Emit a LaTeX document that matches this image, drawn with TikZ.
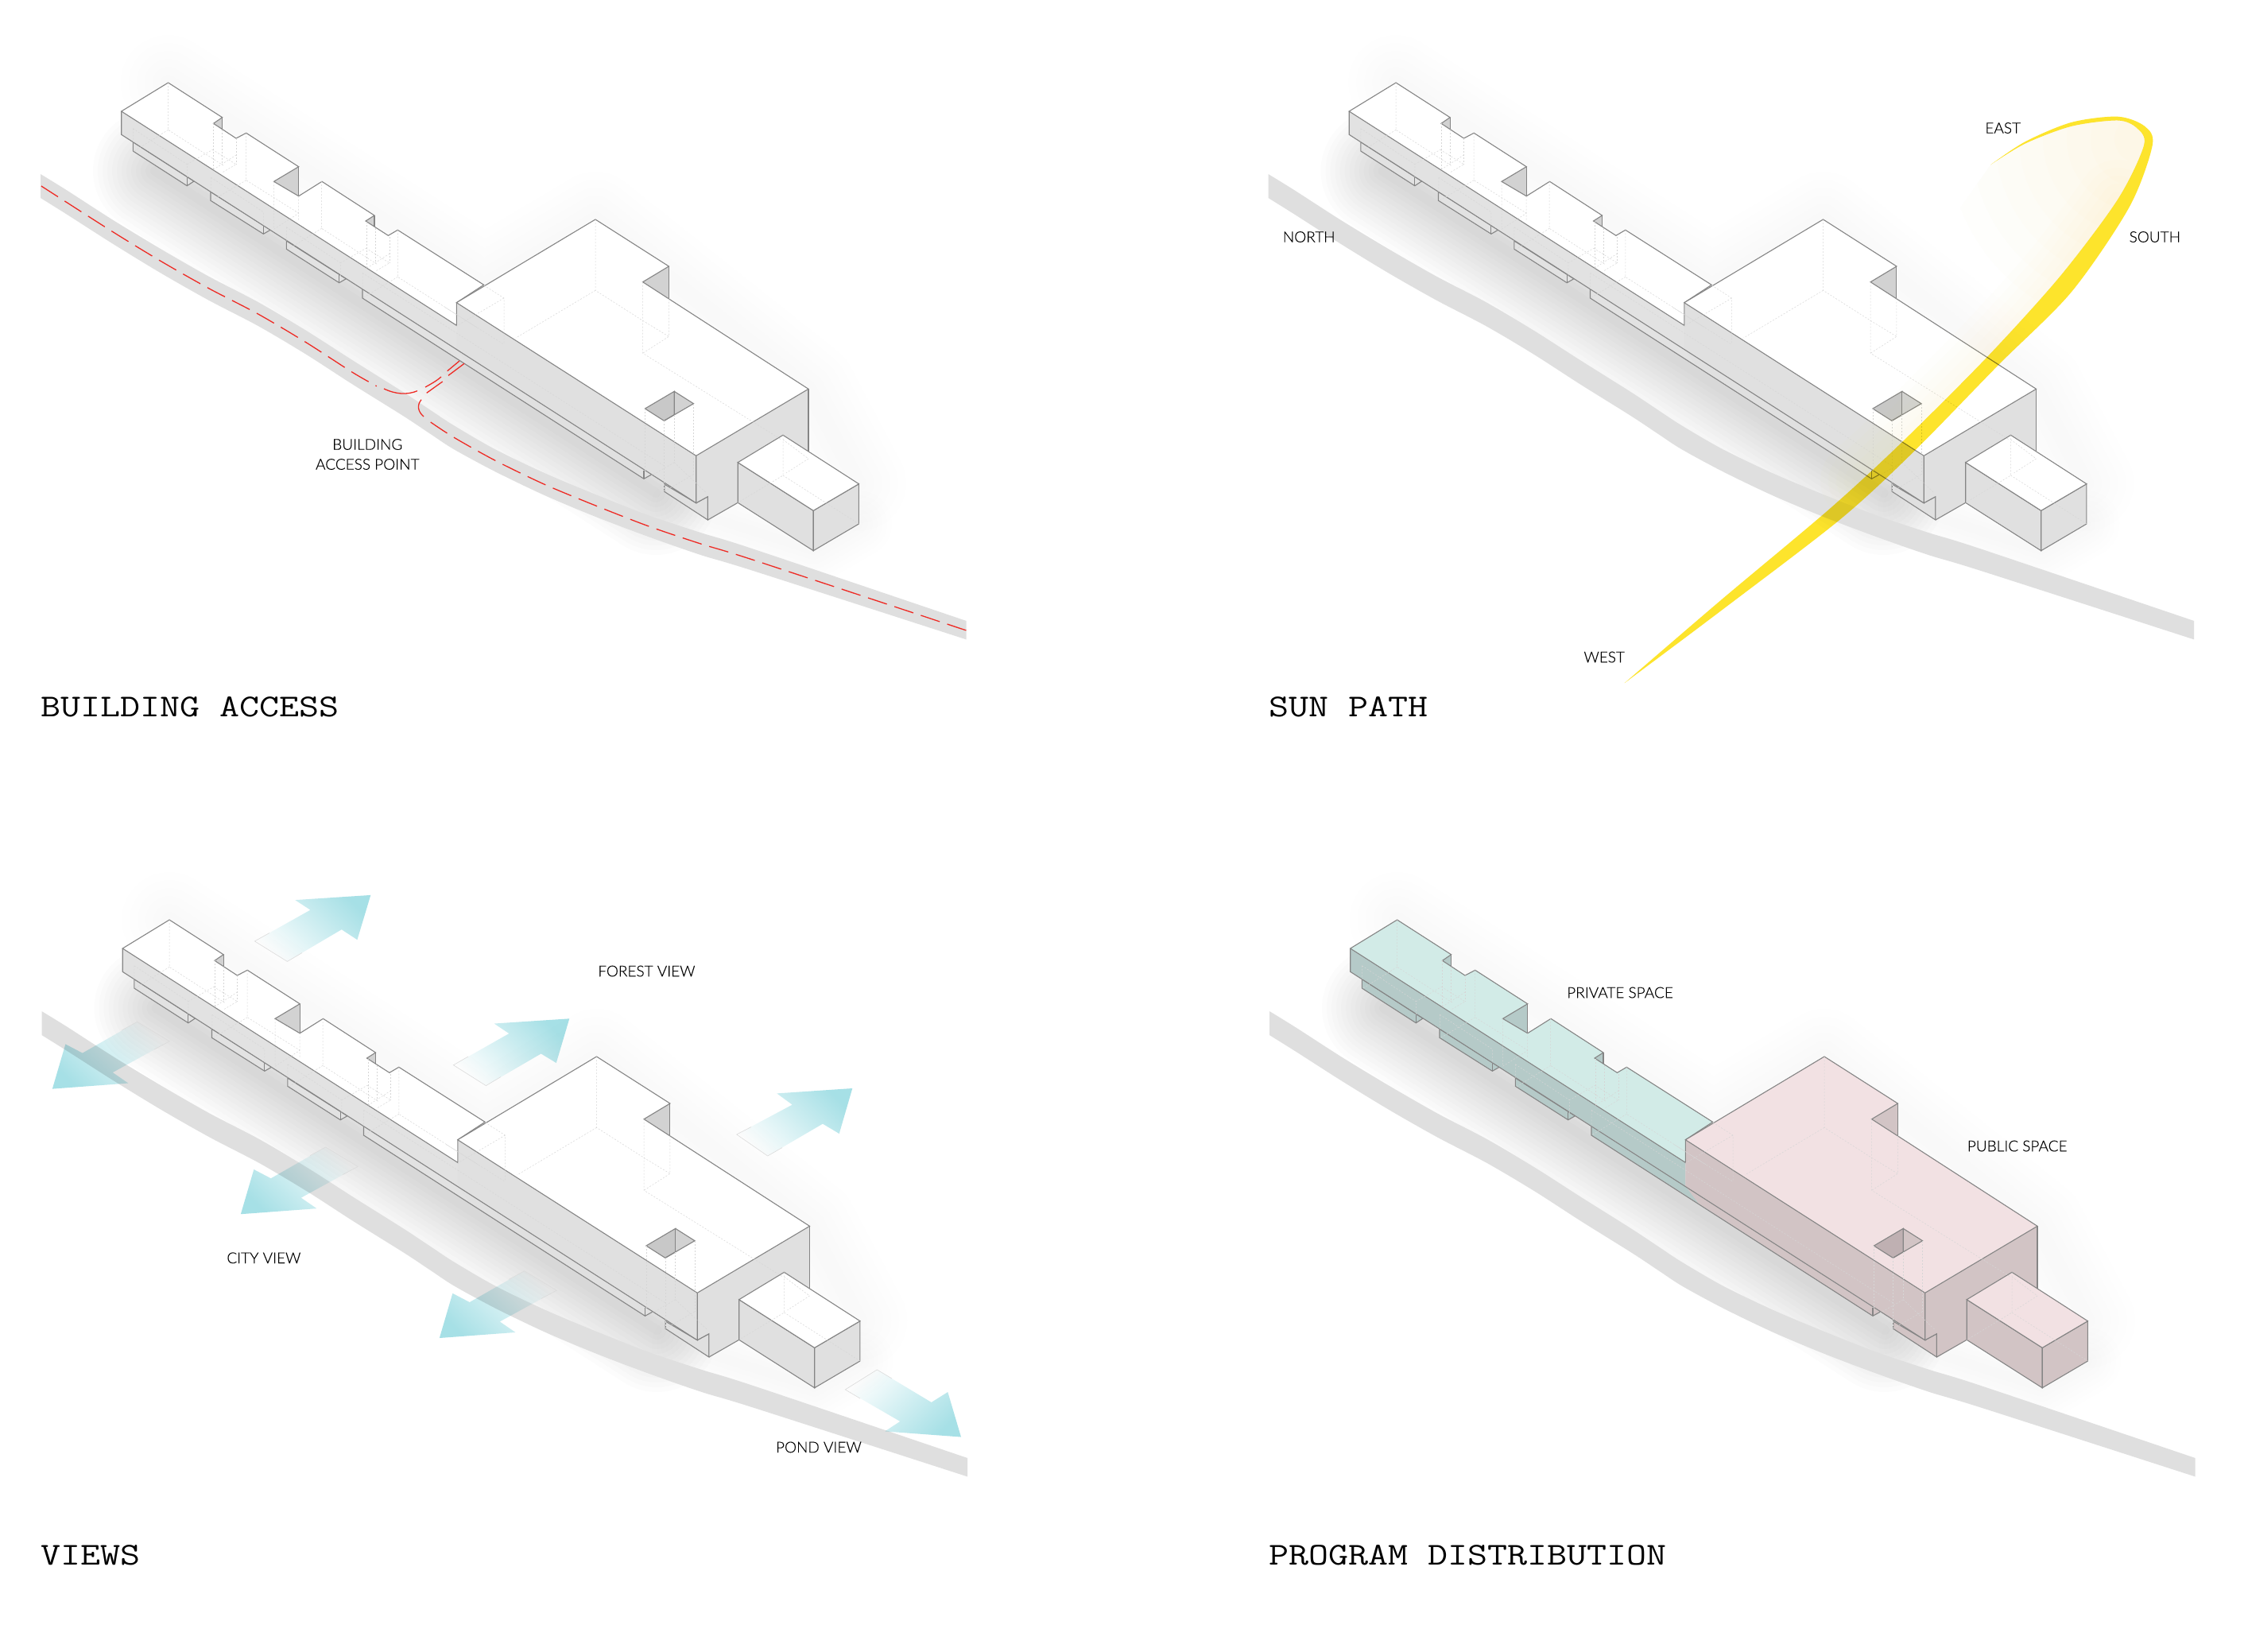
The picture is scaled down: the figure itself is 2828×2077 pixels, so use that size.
\documentclass[tikz,border=0pt]{standalone}
\usepackage{fontspec}
\usetikzlibrary{fadings}
\newfontfamily\lab[FakeBold=0.2]{Lato Light}
\newfontfamily\ttl[FakeStretch=1.215]{Latin Modern Mono}
\definecolor{roadc}{HTML}{DFDFDF}
\definecolor{edgec}{HTML}{858585}
\definecolor{sidec}{HTML}{E2E2E2}
\definecolor{sided}{HTML}{E0E0E0}
\definecolor{holed}{HTML}{C8C8C8}
\definecolor{notchd}{HTML}{D2D2D2}
\definecolor{tealt}{HTML}{D2EBE7}
\definecolor{teals}{HTML}{B5CAC8}
\definecolor{pinkt}{HTML}{F2E1E3}
\definecolor{pinks}{HTML}{D2C4C5}
\definecolor{pinkh}{HTML}{BFB0B2}
\definecolor{sunc}{HTML}{FDE42C}
\definecolor{arrowc}{HTML}{A6E0E6}
\definecolor{redc}{HTML}{EE2A24}
\tikzfading[name=arrowfade,left color=transparent!100,right color=transparent!0]
\tikzset{
  x=1pt,y=-1pt,
  edge/.style={draw=edgec,line width=1.1pt,line join=miter},
  hid/.style={draw=black!16,line width=.5pt,dash pattern=on 2pt off 2pt},
  roadf/.style={fill=roadc},
  redd/.style={draw=redc,line width=1.3pt,dash pattern=on 25pt off 10pt},
  reds/.style={draw=redc,line width=1.3pt},
  lbl/.style={font=\lab\fontsize{19}{23}\selectfont,text=black,inner sep=0pt,align=center},
  ttlb/.style={font=\ttl\fontsize{40}{40}\selectfont,text=black,inner sep=0pt,anchor=base west},
  arr/.style={fill=arrowc,blend mode=multiply,path fading=arrowfade,fading angle=#1},
  tail/.style={draw=black!14,line width=.6pt},
}
\newcommand{\roadpath}{%
  \foreach \w in {20,40,...,120}{\draw[black,opacity=.004,line width=\w,line cap=round,line join=round] (211.6,104)--(609,359)--(749,276)--(1017,489)--(1080,608);}
  \foreach \w in {12,24,...,156}{\draw[black,opacity=.0115,line width=\w,line cap=round,line join=round] (195,215)--(825,620);}
  \foreach \w in {12,24,...,84}{\draw[black,opacity=.0045,line width=\w,line cap=round,line join=round] (860,640)--(1023,692)--(1080,659);}
  \fill[roadf] plot[smooth,tension=.5] coordinates {(51,219)(83.5,239)(142,276.7)(202,313)(262.6,347.7)(324.7,380)(385,415.7)(443.3,453)(507,493)(541.7,516)(570.7,535)(622.5,565)(685,595)(749.3,622)(815.4,648)(881.4,670)(947.5,690.5)(1215.6,781)}
   -- (1215.6,804.4) -- plot[smooth,tension=.5] coordinates {(1215.6,804.4)(947.5,718)(881.4,698)(815.4,675)(749.3,650)(685,623)(622.5,593)(570.7,565)(541.7,546)(507,523)(443.3,483.3)(385,445.7)(324.7,410)(262.6,377.7)(202,343.3)(142,306.7)(83.5,269.3)(51,249)} -- cycle;}
% #1 bar top #2 bar side #3 block top #4 block side #5 hole #6 block notch #7 bar notch
\newcommand{\bldg}[7]{%
  \filldraw[edge,fill=#2] (167.3,178.6)--(167.3,190)--(235.3,233.7)--(244,228)--cycle;
  \draw[edge] (235.3,222.3)--(235.3,233.7);
  \filldraw[edge,fill=#2] (265,241.3)--(265,252.3)--(331.4,294.3)--(340.5,289)--cycle;
  \draw[edge] (331.4,284)--(331.4,294.3);
  \filldraw[edge,fill=#2] (360.3,303)--(360.3,313.3)--(426.7,355.7)--(435.4,350.7)--cycle;
  \draw[edge] (426.7,345.3)--(426.7,355.7);
  \fill[#2] (456,363.7)--(456,375)--(590.6,460.5)--(574.3,438.6)--cycle;
  \fill[#4] (574.3,438.6)--(590.6,460.5)--(810,602.3)--(819,597.3)--cycle;
  \draw[edge] (456,363.7)--(456,375)--(810,602.3)--(819,597.3);
  \draw[edge] (810,591.7)--(810,602.3);
  \filldraw[edge,fill=#4] (835.7,609)--(835.7,618.3)--(890.4,654)--(890.4,624.7)--(875.7,632.7)--cycle;
  \fill[#2] (152.7,140)--(574.3,409.3)--(574.3,438.6)--(152.7,169.3)--cycle;
  \fill[#4] (574.3,380.7)--(875.7,573.3)--(875.7,632.7)--(574.3,438.6)--cycle;
  \fill[#4] (875.7,573.3)--(1017,489.3)--(1017,580)--(890.4,654)--(890.4,624.7)--(875.7,632.7)--cycle;
  \draw[edge] (152.7,140)--(152.7,169.3)--(875.7,632.7)--(875.7,573.3);
  \draw[edge] (1017,489.3)--(1017,575);
  \draw[edge] (890.4,654)--(890.4,624.7)--(875.7,632.7);
  \draw[edge] (890.4,654)--(928.2,632.3);
  \fill[#7] (279.6,147.7)--(268.5,155.3)--(279.6,162.7)--cycle;
  \fill[#7] (375.7,209.7)--(344.5,228.3)--(375.7,246.7)--cycle;
  \fill[#7] (471,271)--(460,278)--(471,285.3)--cycle;
  \fill[#6] (841.4,335)--(808.6,354.7)--(841.4,375.7)--cycle;
  \filldraw[edge,fill=#1] (152.7,140)--(211.6,104)--(279.6,147.7)--(268.5,155.3)--(297,174)--(309.7,167.3)--(375.7,209.7)--(344.5,228.3)--(375.7,246.7)--(405,228.3)--(471,271)--(460,278)--(488.4,296.3)--(500.3,289.3)--(608.6,358.3)--(574.3,380.7)--(574.3,409.3)--cycle;
  \draw[edge] (279.6,147.7)--(279.6,162.7) (375.7,209.7)--(375.7,246.7) (471,271)--(471,285.3);
  \filldraw[edge,fill=#3] (574.3,380.7)--(749,276)--(841.4,335)--(808.6,354.7)--(1017,489.3)--(875.7,573.3)--cycle;
  \draw[edge] (841.4,335)--(841.4,375.7);
  \filldraw[edge,fill=#5] (848.2,492.3)--(811.4,514)--(835.4,529.3)--(848.2,521.7)--cycle;
  \fill[#6] (848.2,492.3)--(872.5,507.7)--(848.2,521.7)--cycle;
  \draw[edge] (848.2,492.3)--(872.5,507.7)--(835.4,529.3);
  \draw[edge] (848.2,492.3)--(848.2,521.7);
  \filldraw[edge,fill=#4] (928.2,581.7)--(1023.2,642.3)--(1023.2,692.7)--(928.2,632.3)--cycle;
  \filldraw[edge,fill=#4] (1023.2,642.3)--(1080.4,608.7)--(1080.4,659)--(1023.2,692.7)--cycle;
  \filldraw[edge,fill=#3] (985,547.3)--(1080.4,608.7)--(1023.2,642.3)--(928.2,581.7)--cycle;
  \foreach \dx/\dy in {0/0,193/124}{
  \begin{scope}[shift={(\dx,\dy)}]
    \draw[hid] (211.6,104)--(211.6,163.3)--(281.2,208.3) (211.6,163.3)--(167.3,191);
    \draw[hid] (167.3,161.7)--(167.3,178.6) (167.3,161.7)--(235.3,206.7)--(235.3,224) (235.3,206.7)--(267.4,188.3);
    \draw[hid] (268.5,155.3)--(268.5,213.3) (279.6,162.7)--(279.6,206.7) (297,174)--(297,206.7);
    \draw[hid] (268.5,213.3)--(297,195)  (267.4,188.3)--(297,206.7)--(279.6,217);
  \end{scope}}
  \draw[hid] (309.7,167.3)--(309.7,226.7)--(376,268.3) (309.7,226.7)--(265.4,253) (265.4,223.3)--(265.4,242.3) (265.4,223.3)--(331.4,266.7)--(331.4,284) (344.5,228.3)--(344.5,288.3) (375.7,246.7)--(375.7,276.7) (344.5,288.3)--(375.7,268.3);
  \draw[hid] (500.3,289.3)--(500.3,348.3)--(600,412) (500.3,348.3)--(456,375) (456,343.3)--(456,363.7) (456,343.3)--(835.7,586);
  \draw[hid] (749,276)--(749,365.3)--(808.6,403.3)--(841.4,423.3) (749,365.3)--(649,425);
  \draw[hid] (808.6,354.7)--(808.6,444.3)--(983,553) (841.4,375.7)--(841.4,423.3)--(808.6,444.3);
  \draw[hid] (609,359)--(634,375)--(634,433.3) (634,375)--(574.3,410) (560,386.7)--(634,433.3);
  \draw[hid] (811.4,514)--(811.4,591.7) (835.4,529.3)--(835.4,618.3) (848.2,521.7)--(848.2,581.7) (872.5,507.7)--(872.5,596.7);
  \draw[hid] (848.2,581.7)--(811.4,603) (848.2,581.7)--(888.6,620) (872.5,596.7)--(835.7,618.3);
  \draw[hid] (985,547.3)--(985,598)--(928.2,632.3) (985,598)--(1080.4,659) (985,553)--(1017,577)--(989,595);
}
\newcommand{\grayb}{\bldg{white}{sidec}{white}{sided}{holed}{notchd}{notchd}}
\begin{document}
\begin{tikzpicture}
\useasboundingbox (0,0) rectangle (2828,2077);
\fill[white] (0,0) rectangle (2828,2077);
% ---------- panel 1
\begin{scope}
  \roadpath
  \grayb
  \draw[redd] plot[smooth,tension=.5] coordinates {(51.9,234)(83.5,254.3)(142,291.7)(202,328.3)(262.6,362.7)(324.7,395)(385,430.7)(443.3,468.3)(473.8,485.7)};
  \coordinate (rj1) at (483,489);
  \coordinate (rj2) at (525,491.7);
  \draw[reds] (rj1) .. controls (498,496) and (512,497) .. (rj2);
  \draw[reds] (535,487) .. controls (542,483) and (548,480) .. (555,474);
  \draw[reds] (562.7,466.7)--(578,454);
  \draw[reds] (536.7,494.3)--(556.7,480);
  \draw[reds] (564,472.3)--(584,457.3);
  \draw[reds] (530,502.7) .. controls (524,510) and (526,518) .. (533,524);
  \draw[redd] plot[smooth,tension=.5] coordinates {(541.7,531)(570.7,550)(622.5,579)(685,609.3)(749.3,636)(815.4,661.7)(881.4,684)(947.5,704.3)(1215.6,793)};
  \node[lbl] (access) at (462.3,571.5) {BUILDING\\[2pt]ACCESS POINT};
\end{scope}
\node[ttlb] (t1) at (51,901) {BUILDING ACCESS};
% ---------- panel 2
\begin{scope}[shift={(1544.5,0)}]
  \roadpath
  \grayb
\end{scope}
\begin{scope}
  \clip (2043.6,859.2) -- plot[smooth,tension=.5] coordinates {(2043.6,859.2)(2164.8,755)(2300.5,641.1)(2392.6,556.3)(2499.3,449.6)(2591.4,347.8)(2664.1,250.9)(2697,183)(2688.3,161.2)(2664.1,151.5)(2605.9,158.8)(2547.7,180.6)(2504.1,207.3)} -- cycle;
  \foreach \r in {30,60,...,240}{\fill[sunc,opacity=.012] (2690,175) circle[radius=\r];}
  \foreach \w in {20,40,...,100}{\draw[sunc,opacity=.01,line width=\w,line cap=round,line join=round] plot[smooth,tension=.5] coordinates {(2340,605)(2392.6,556.3)(2499.3,449.6)(2591.4,347.8)(2664.1,250.9)};}
\end{scope}
\fill[sunc,blend mode=multiply] plot[smooth,tension=.5] coordinates {(2043.6,859.2)(2169.7,764.7)(2315.1,653.2)(2407.2,568.4)(2513.8,459.3)(2605.9,367.2)(2678.6,260.6)(2707.7,183)(2698,158.8)(2664.1,146.7)(2605.9,153.9)(2547.7,178.2)(2504.1,207.3)}
 -- plot[smooth,tension=.5] coordinates {(2504.1,207.3)(2547.7,180.6)(2605.9,158.8)(2664.1,151.5)(2688.3,161.2)(2697,183)(2664.1,250.9)(2591.4,347.8)(2499.3,449.6)(2392.6,556.3)(2300.5,641.1)(2164.8,755)(2043.6,859.2)} -- cycle;
\node[lbl] (north) at (1646.7,298) {NORTH};
\node[lbl] (east) at (2519.7,161) {EAST};
\node[lbl] (south) at (2710.8,298) {SOUTH};
\node[lbl] (west) at (2018.2,826.5) {WEST};
\node[ttlb] (t2) at (1596,901) {SUN PATH};
% ---------- panel 3
\begin{scope}[shift={(1.5,1053)}]
  \roadpath
\end{scope}
\begin{scope}
  \fill[arr=30] (320.4,1183.9)--(390.4,1144.6)--(371.3,1132.1)--(466.3,1125.9)--(449.4,1182.1)--(429.7,1169.2)--(361.4,1209.4)--cycle;
  \draw[tail] (339,1173.5)--(320.4,1183.9)--(361.4,1209.4)--(380,1198.5);
  \fill[arr=30] (570.4,1339.7)--(640.4,1300)--(621.7,1287.5)--(716.3,1281.3)--(699.8,1337)--(680.6,1325.4)--(611.4,1365.6)--cycle;
  \draw[tail] (589,1329)--(570.4,1339.7)--(611.4,1365.6)--(630,1354.5);
  \fill[arr=30] (926.7,1427)--(996.7,1389.6)--(977.3,1375.4)--(1072.3,1369)--(1055.7,1426)--(1035,1413.6)--(965.7,1454)--cycle;
  \draw[tail] (945,1417.5)--(926.7,1427)--(965.7,1454)--(984,1443.5);
  \fill[arr=210] (172.6,1285.3)--(213.2,1309.8)--(141.8,1349)--(161.4,1362.5)--(65.9,1369.6)--(82.4,1313.4)--(103.8,1324.6)--cycle;
  \draw[tail] (153,1296)--(172.6,1285.3)--(213.2,1309.8)--(194,1320);
  \begin{scope}[shift={(237,157.6)}]
  \fill[arr=210] (172.6,1285.3)--(213.2,1309.8)--(141.8,1349)--(161.4,1362.5)--(65.9,1369.6)--(82.4,1313.4)--(103.8,1324.6)--cycle;
  \draw[tail] (153,1296)--(172.6,1285.3)--(213.2,1309.8)--(194,1320);
  \end{scope}
  \begin{scope}[shift={(487,313.4)}]
  \fill[arr=210] (172.6,1285.3)--(213.2,1309.8)--(141.8,1349)--(161.4,1362.5)--(65.9,1369.6)--(82.4,1313.4)--(103.8,1324.6)--cycle;
  \draw[tail] (153,1296)--(172.6,1285.3)--(213.2,1309.8)--(194,1320);
  \end{scope}
  \fill[arr=-30] (1063.3,1747.9)--(1103.3,1722.9)--(1171.7,1763.9)--(1192.3,1751)--(1209,1807.5)--(1113.3,1800.4)--(1132.3,1787.9)--cycle;
  \draw[tail] (1122,1734)--(1103.3,1722.9)--(1063.3,1747.9)--(1082,1759);
\end{scope}
\begin{scope}[shift={(1.5,1053)}]
  \grayb
\end{scope}
\node[lbl] (forest) at (813.4,1221.5) {FOREST VIEW};
\node[lbl] (city) at (331.9,1582.3) {CITY VIEW};
\node[lbl] (pond) at (1029.9,1820.4) {POND VIEW};
\node[ttlb] (t3) at (51,1968) {VIEWS};
% ---------- panel 4
\begin{scope}[shift={(1546,1053)}]
  \roadpath
  \bldg{tealt}{teals}{pinkt}{pinks}{pinkh}{pinks}{teals}
\end{scope}
\node[lbl] (priv) at (2038,1248.5) {PRIVATE SPACE};
\node[lbl] (publ) at (2537.7,1441.5) {PUBLIC SPACE};
\node[ttlb] (t4) at (1596,1968) {PROGRAM DISTRIBUTION};
\end{tikzpicture}
\end{document}
